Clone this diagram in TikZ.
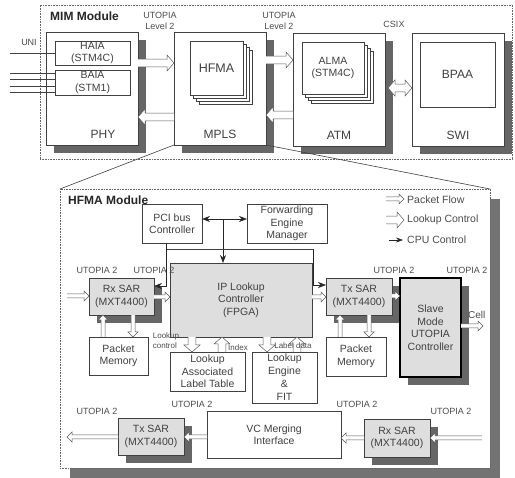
\documentclass[tikz,border=0pt]{standalone}
\usepackage{fontspec}
\setmainfont{Liberation Sans}
\usetikzlibrary{arrows.meta,shadows,calc}
\tikzset{
  box/.style={draw=black!75, fill=white, line width=0.6pt, inner sep=0pt, outer sep=0pt,
    anchor=north west, align=center, text=black!75, font=\fontsize{10.5}{12.5}\selectfont},
  gbox/.style={box, fill=black!13},
  shad/.style={drop shadow={shadow xshift=8pt, shadow yshift=-8pt, opacity=1, fill=black!60}},
  lbl/.style={text=black!70, font=\fontsize{9}{10.5}\selectfont, inner sep=0pt, align=center},
  small/.style={text=black!70, font=\fontsize{8}{10}\selectfont, inner sep=0pt, align=left},
  big/.style={text=black!75, font=\fontsize{12}{14}\selectfont, inner sep=0pt},
  title/.style={text=black!85, font=\bfseries\fontsize{12}{14}\selectfont, inner sep=0pt, anchor=west},
  module/.style={draw=black!60, densely dotted, line width=0.6pt},
  blk/.style n args={3}{draw=black!65, fill=white, line width=0.5pt, to path={
    let \p1=(\tikztostart), \p2=(\tikztotarget), \n1={atan2(\y2-\y1,\x2-\x1)} in
    ($(\p1)+(\n1+90:#1)$) -- ($(\p2)+(\n1+180:#3)+(\n1+90:#1)$) -- ($(\p2)+(\n1+180:#3)+(\n1+90:#2)$)
    -- (\p2) -- ($(\p2)+(\n1+180:#3)+(\n1-90:#2)$) -- ($(\p2)+(\n1+180:#3)+(\n1-90:#1)$)
    -- ($(\p1)+(\n1-90:#1)$)}},
  blk2/.style n args={3}{draw=black!65, fill=white, line width=0.5pt, to path={
    let \p1=(\tikztostart), \p2=(\tikztotarget), \n1={atan2(\y2-\y1,\x2-\x1)} in
    (\p1) -- ($(\p1)+(\n1:#3)+(\n1+90:#2)$) -- ($(\p1)+(\n1:#3)+(\n1+90:#1)$)
    -- ($(\p2)+(\n1+180:#3)+(\n1+90:#1)$) -- ($(\p2)+(\n1+180:#3)+(\n1+90:#2)$)
    -- (\p2) -- ($(\p2)+(\n1+180:#3)+(\n1-90:#2)$) -- ($(\p2)+(\n1+180:#3)+(\n1-90:#1)$)
    -- ($(\p1)+(\n1:#3)+(\n1-90:#1)$) -- ($(\p1)+(\n1:#3)+(\n1-90:#2)$) -- cycle}},
  flow/.style={blk={2pt}{5pt}{5pt}},
  hollow/.style={blk={3.8pt}{8pt}{7pt}},
  hollow2/.style={blk2={3.8pt}{8pt}{7pt}},
  cpu/.style={draw=black!85, line width=0.6pt, -{Stealth[length=8pt,width=6pt]}},
  cpu2/.style={draw=black!85, line width=0.6pt, {Stealth[length=8pt,width=6pt]}-{Stealth[length=8pt,width=6pt]}},
  thinl/.style={draw=black!75, line width=0.6pt},
}
\begin{document}
\begin{tikzpicture}[x=1pt,y=-1pt]
\useasboundingbox[fill=white] (0,0) rectangle (515,478);

% ===== MIM module =====
\node[module, inner sep=0pt, outer sep=0pt, anchor=north west, minimum width=472pt, minimum height=154pt] (mim) at (40,5) {};
\node[title] (mimt) at (50,16) {MIM Module};

\node[box, shad, minimum width=92pt, minimum height=113pt] (phy) at (46,32) {};
\node[box, minimum width=75pt, minimum height=24pt] (haia) at (55,41) {HAIA\\(STM4C)};
\node[box, minimum width=75pt, minimum height=25pt] (baia) at (55,70) {BAIA\\(STM1)};
\node[big] (phyt) at (103,134) {PHY};

\node[box, shad, minimum width=92pt, minimum height=113pt] (mpls) at (174,32) {};
\foreach \d in {9,6,3} {\node[box, minimum width=53pt, minimum height=54pt] at (190+\d,41+\d) {};}
\node[box, minimum width=53pt, minimum height=54pt, font=\fontsize{12.5}{14}\selectfont] (hfma) at (190,41) {HFMA};
\node[big] (mplst) at (220,134) {MPLS};

\node[box, shad, minimum width=92pt, minimum height=113pt] (atm) at (293,33) {};
\foreach \d in {9,6,3} {\node[box, minimum width=62pt, minimum height=52pt] at (302+\d,42+\d) {};}
\node[box, minimum width=62pt, minimum height=52pt] (alma) at (302,42) {ALMA\\(STM4C)};
\node[big] (atmt) at (339,135) {ATM};

\node[box, shad, minimum width=92pt, minimum height=113pt] (swi) at (412,33) {};
\node[box, minimum width=75pt, minimum height=65pt, font=\fontsize{12}{14}\selectfont] (bpaa) at (420,42) {BPAA};
\node[big] (swit) at (458,135) {SWI};

\node[lbl] (u1) at (160,21) {UTOPIA\\Level 2};
\node[lbl] (u2) at (279,21) {UTOPIA\\Level 2};
\node[lbl] (csix) at (394,24) {CSIX};
\node[lbl] (uni) at (29,42) {UNI};

\coordinate (l0) at (10,53);
\coordinate (l1) at (10,73);
\coordinate (l2) at (10,79);
\coordinate (l3) at (10,86);
\coordinate (l4) at (10,92);
\draw[thinl] (l0) -- (l0 -| haia.west);
\foreach \i in {1,2,3,4} {\draw[thinl] (l\i) -- (l\i -| baia.west);}

\coordinate (ya) at (0,63);
\coordinate (yb) at (0,117);
\coordinate (yc) at (0,60);
\coordinate (yd) at (0,115);
\coordinate (ye) at (0,88);
\path[hollow] (phy.east |- ya) to (mpls.west |- ya);
\path[hollow] (mpls.west |- yb) to (phy.east |- yb);
\path[hollow] (mpls.east |- yc) to (atm.west |- yc);
\path[hollow] (atm.west |- yd) to (mpls.east |- yd);
\path[hollow2] ([xshift=3pt]atm.east |- ye) to (swi.west |- ye);

% ===== HFMA module =====
\node[module, fill=white, inner sep=0pt, outer sep=0pt, anchor=north west, minimum width=430pt, minimum height=279pt,
  drop shadow={shadow xshift=10pt, shadow yshift=-10pt, opacity=1, fill=black!55}] (hm) at (60,189) {};
\draw[thinl] (mpls.south west) -- (hm.north west);
\draw[thinl] (mpls.south east) -- (hm.north east);
\node[title] (hmt) at (68,200) {HFMA Module};

% legend
\coordinate (g1a) at (386,199); \coordinate (g1b) at (404,199);
\coordinate (g2a) at (386,220); \coordinate (g2b) at (404,220);
\coordinate (g3a) at (389,240); \coordinate (g3b) at (403,240);
\path[flow] (g1a) to (g1b);
\path[hollow] (g2a) to (g2b);
\draw[cpu, -{Stealth[length=7pt,width=5pt]}] (g3a) -- (g3b);
\node[lbl, anchor=west, font=\fontsize{10.5}{12}\selectfont] (lg1) at (407,200) {Packet Flow};
\node[lbl, anchor=west, font=\fontsize{10.5}{12}\selectfont] (lg2) at (407,220) {Lookup Control};
\node[lbl, anchor=west, font=\fontsize{10.5}{12}\selectfont] (lg3) at (407,240) {CPU Control};

\node[box, minimum width=60pt, minimum height=39pt] (pci) at (142,204) {PCI bus\\Controller};
\node[box, minimum width=80pt, minimum height=39pt] (fem) at (247,204) {Forwarding\\Engine\\Manager};
\node[gbox, minimum width=142pt, minimum height=74pt] (ip) at (170,263) {IP Lookup\\Controller\\(FPGA)};

\node[gbox, shad, minimum width=65pt, minimum height=37pt] (rx1) at (89,278) {Rx SAR\\(MXT4400)};
\node[gbox, shad, minimum width=66pt, minimum height=37pt] (tx1) at (326,278) {Tx SAR\\(MXT4400)};
\node[gbox, shad, draw=black, line width=1.8pt, minimum width=61pt, minimum height=99pt] (slave) at (400,278) {Slave\\Mode\\UTOPIA\\Controller};

\node[box, minimum width=59pt, minimum height=38pt] (pm1) at (89,337) {Packet\\Memory};
\node[box, minimum width=60pt, minimum height=39pt] (pm2) at (326,337) {Packet\\Memory};
\node[box, minimum width=75pt, minimum height=39pt] (lalt) at (170,352) {Lookup\\Associated\\Label Table};
\node[box, minimum width=65pt, minimum height=51pt, font=\fontsize{10.5}{13}\selectfont] (lef) at (252,352) {Lookup\\Engine\\\&\\FIT};

\node[gbox, shad, minimum width=66pt, minimum height=37pt] (tx2) at (118,418) {Tx SAR\\(MXT4400)};
\node[box, minimum width=134pt, minimum height=47pt] (vc) at (207,411) {VC Merging\\Interface};
\node[gbox, shad, minimum width=66pt, minimum height=38pt] (rx2) at (364,419) {Rx SAR\\(MXT4400)};

% UTOPIA labels
\node[lbl] (ua) at (97,270) {UTOPIA 2};
\node[lbl] (ub) at (154,270) {UTOPIA 2};
\node[lbl] (uc) at (394,270) {UTOPIA 2};
\node[lbl] (ud) at (467,270) {UTOPIA 2};
\node[lbl] (ue) at (97,411) {UTOPIA 2};
\node[lbl] (uf) at (192,404) {UTOPIA 2};
\node[lbl] (ug) at (357,404) {UTOPIA 2};
\node[lbl] (uh) at (451,411) {UTOPIA 2};

% CPU control
\coordinate (j) at (223,219);
\draw[cpu2] (pci.east |- j) -- (fem.west |- j);
\draw[cpu] (j) -- (j |- ip.north);
\coordinate (pv) at (166,286);
\coordinate (tv) at (313,285);
\draw[thinl] (pci.south -| pv) -- (166,249) -- (313,249);
\draw[cpu] (pci.south -| pv) -- (pv) -- (pv -| rx1.east);
\draw[cpu] (313,249) -- (tv) -- (tv -| tx1.west);

% packet flow
\coordinate (f1) at (67,296);
\coordinate (f2) at (0,297);
\coordinate (f3) at (0,296);
\coordinate (f4) at (0,326);
\coordinate (f5) at (483,326);
\path[flow] (f1) to (f1 -| rx1.west);
\path[flow] (rx1.east |- f2) to (ip.west |- f2);
\path[flow] (ip.east |- f2) to (tx1.west |- f2);
\path[flow] (tx1.east |- f3) to (slave.west |- f3);
\path[flow] (slave.east |- f4) to (f5);
\node[lbl, anchor=west, font=\fontsize{10}{12}\selectfont] (cell) at (468,315) {Cell};

\coordinate (b1) at (482,438);
\coordinate (b2) at (67,437);
\path[flow] (b1) to (b1 -| rx2.east);
\path[flow] (rx2.west |- b1) to (vc.east |- b1);
\path[flow] (vc.west |- b2) to (tx2.east |- b2);
\path[flow] (tx2.west |- b2) to (b2);

% memory arrows
\path[flow] (pm1.north -| 103,0) to (rx1.south -| 103,0);
\path[flow] (rx1.south -| 133,0) to (pm1.north -| 133,0);
\path[flow] (pm2.north -| 340,0) to (tx1.south -| 340,0);
\path[flow] (tx1.south -| 369,0) to (pm2.north -| 369,0);

% lookup control
\path[hollow] (ip.south -| 192,0) to (lalt.north -| 192,0);
\path[hollow] (lalt.north -| 222,0) to (ip.south -| 222,0);
\path[hollow] (ip.south -| 267,0) to (lef.north -| 267,0);
\path[hollow] (lef.north -| 297,0) to (ip.south -| 297,0);
\node[small] (lc) at (166,341) {Lookup\\control};
\node[small] (idx) at (238,348) {Index};
\node[small] (ld) at (293,346) {Label data};
\end{tikzpicture}
\end{document}
